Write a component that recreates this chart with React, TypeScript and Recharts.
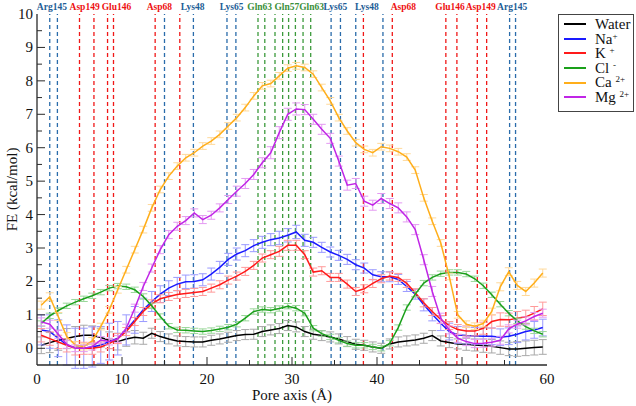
import React from 'react';
import { LineChart, Line, XAxis, YAxis, ErrorBar, ReferenceLine, Legend } from 'recharts';

const SERIF = "'Liberation Serif', 'Tinos', 'Times New Roman', 'DejaVu Serif', serif";

const poreX = [0.5,1.5,2.5,3.5,4.5,5.5,6.5,7.5,8.5,9.5,10.5,11.5,12.5,13.5,14.5,15.5,16.5,17.5,18.5,19.5,20.5,21.5,22.5,23.5,24.5,25.5,26.5,27.5,28.5,29.5,30.5,31.5,32.5,33.5,34.5,35.5,36.5,37.5,38.5,39.5,40.5,41.5,42.5,43.5,44.5,45.5,46.5,47.5,48.5,49.5,50.5,51.5,52.5,53.5,54.5,55.5,56.5,57.5,58.5,59.5];

const water = [0.09,0.17,0.24,0.29,0.35,0.39,0.39,0.32,0.24,0.2,0.28,0.33,0.3,0.45,0.35,0.28,0.22,0.2,0.19,0.19,0.24,0.28,0.33,0.38,0.41,0.42,0.5,0.55,0.59,0.68,0.64,0.5,0.42,0.38,0.34,0.28,0.2,0.12,0.09,0.04,0.0,0.13,0.19,0.22,0.25,0.3,0.38,0.22,0.17,0.13,0.12,0.1,0.08,0.06,0.02,-0.02,-0.02,0.0,0.02,0.04];
const waterErr = [0.25,0.3,0.3,0.3,0.3,0.3,0.28,0.28,0.25,0.25,0.22,0.2,0.18,0.15,0.15,0.15,0.15,0.15,0.15,0.15,0.15,0.15,0.15,0.15,0.15,0.15,0.15,0.15,0.15,0.15,0.15,0.15,0.15,0.15,0.15,0.15,0.15,0.15,0.15,0.15,0.15,0.15,0.15,0.15,0.15,0.15,0.15,0.15,0.15,0.15,0.18,0.18,0.2,0.2,0.2,0.2,0.22,0.22,0.22,0.22];

const sodium = [0.55,0.5,0.3,0.1,0.0,0.0,0.04,0.1,0.2,0.3,0.55,0.85,1.15,1.4,1.62,1.8,1.92,1.99,2.0,2.05,2.22,2.42,2.66,2.82,2.92,3.07,3.17,3.25,3.3,3.38,3.48,3.23,3.17,3.02,2.88,2.78,2.66,2.5,2.4,2.2,2.14,2.14,2.06,1.85,1.62,1.3,1.02,0.75,0.5,0.4,0.38,0.37,0.36,0.36,0.33,0.36,0.42,0.5,0.55,0.62];
const sodiumErr = [0.45,0.5,0.55,0.6,0.6,0.6,0.6,0.55,0.55,0.5,0.45,0.4,0.35,0.3,0.25,0.22,0.2,0.2,0.2,0.18,0.18,0.18,0.18,0.18,0.18,0.18,0.18,0.18,0.2,0.2,0.2,0.18,0.15,0.15,0.15,0.15,0.15,0.15,0.15,0.15,0.15,0.15,0.15,0.15,0.15,0.18,0.2,0.22,0.25,0.25,0.25,0.25,0.25,0.25,0.25,0.25,0.25,0.25,0.25,0.25];

const potassium = [0.39,0.29,0.19,0.09,0.0,0.0,0.0,0.04,0.14,0.29,0.5,0.8,1.1,1.33,1.48,1.55,1.61,1.64,1.67,1.7,1.8,1.9,2.04,2.16,2.3,2.48,2.7,2.8,2.9,3.08,3.08,2.8,2.28,2.32,2.12,2.12,1.92,1.7,1.78,1.94,2.08,2.16,2.12,1.94,1.66,1.36,1.1,0.86,0.68,0.56,0.52,0.52,0.6,0.8,0.86,0.85,0.9,0.94,1.05,1.18];
const potassiumErr = [0.2,0.2,0.2,0.2,0.2,0.18,0.18,0.15,0.15,0.15,0.12,0.12,0.12,0.12,0.12,0.12,0.12,0.12,0.12,0.12,0.12,0.12,0.12,0.12,0.12,0.12,0.12,0.12,0.15,0.15,0.15,0.12,0.12,0.12,0.12,0.12,0.12,0.12,0.12,0.12,0.12,0.12,0.12,0.12,0.12,0.12,0.12,0.12,0.12,0.15,0.15,0.15,0.18,0.2,0.2,0.2,0.2,0.2,0.2,0.2];

const chloride = [0.74,0.97,1.13,1.27,1.38,1.48,1.57,1.68,1.8,1.86,1.84,1.75,1.55,1.27,0.95,0.66,0.55,0.54,0.52,0.5,0.53,0.58,0.63,0.72,0.9,1.1,1.16,1.14,1.19,1.26,1.2,1.05,0.6,0.44,0.34,0.24,0.14,0.09,0.09,0.04,0.0,0.15,0.62,1.22,1.62,1.95,2.12,2.23,2.27,2.27,2.22,2.08,1.87,1.6,1.32,1.05,0.82,0.65,0.52,0.42];
const chlorideErr = [0.08,0.08,0.08,0.08,0.08,0.08,0.08,0.08,0.08,0.08,0.08,0.08,0.08,0.08,0.08,0.08,0.08,0.08,0.08,0.08,0.08,0.08,0.08,0.08,0.08,0.08,0.08,0.08,0.08,0.08,0.08,0.08,0.08,0.08,0.08,0.08,0.08,0.08,0.08,0.08,0.08,0.08,0.08,0.08,0.08,0.08,0.08,0.08,0.08,0.08,0.08,0.08,0.08,0.08,0.08,0.08,0.08,0.08,0.08,0.08];

const calcium = [1.29,1.54,0.95,0.35,0.1,0.05,0.22,0.65,1.15,1.75,2.35,2.95,3.55,4.2,4.75,5.15,5.45,5.7,5.85,6.05,6.2,6.4,6.65,6.9,7.2,7.55,7.85,7.92,8.15,8.38,8.45,8.4,8.2,7.8,7.4,6.9,6.5,6.15,5.95,5.85,6.03,5.98,5.88,5.72,5.33,4.5,3.8,3.15,2.15,1.0,0.72,0.66,0.74,1.1,1.84,2.29,1.88,1.7,1.95,2.25];
const calciumErr = [0.12,0.12,0.12,0.12,0.1,0.1,0.1,0.1,0.1,0.1,0.1,0.1,0.1,0.1,0.1,0.1,0.1,0.1,0.1,0.1,0.1,0.1,0.1,0.1,0.1,0.1,0.1,0.1,0.1,0.1,0.1,0.1,0.1,0.1,0.1,0.1,0.1,0.1,0.1,0.1,0.1,0.1,0.1,0.1,0.1,0.1,0.1,0.1,0.1,0.1,0.1,0.1,0.1,0.1,0.12,0.12,0.12,0.12,0.12,0.12];

const magnesium = [0.79,0.72,0.42,0.12,0.0,0.0,0.05,0.25,0.2,0.28,0.6,1.2,1.85,2.4,2.95,3.4,3.65,3.82,4.05,3.85,3.98,4.2,4.45,4.7,4.93,5.2,5.55,5.85,6.45,7.0,7.16,7.14,6.85,6.55,6.28,5.6,4.88,4.93,4.4,4.28,4.48,4.33,4.2,3.93,3.55,2.65,1.7,0.9,0.55,0.3,0.2,0.14,0.15,0.18,0.24,0.58,0.72,0.82,0.95,1.05];
const magnesiumErr = [0.12,0.12,0.12,0.12,0.1,0.1,0.1,0.1,0.1,0.1,0.12,0.12,0.12,0.12,0.12,0.12,0.12,0.12,0.12,0.12,0.12,0.12,0.12,0.15,0.15,0.15,0.15,0.18,0.18,0.18,0.18,0.15,0.15,0.15,0.15,0.15,0.15,0.15,0.15,0.15,0.15,0.15,0.15,0.15,0.15,0.15,0.15,0.15,0.12,0.12,0.12,0.12,0.12,0.12,0.12,0.12,0.12,0.12,0.12,0.12];

const blueLines = [1.5, 2.4, 15.0, 18.4, 22.35, 23.4, 34.6, 35.7, 37.5, 40.7, 55.6, 56.3];
const redLines = [5.0, 6.7, 8.3, 9.0, 13.9, 16.8, 38.4, 41.8, 48.1, 49.4, 51.8, 52.9];
const greenLines = [26.0, 26.8, 28.0, 28.9, 29.6, 30.4, 31.3, 32.2];

const residueNames = ['Arg145','Asp149','Glu146','Asp68','Lys48','Lys65','Gln63','Gln57','Gln63','Lys65','Lys48','Asp68','Glu146','Asp149','Arg145'];
const residueLabelX = [1.75, 5.6, 9.35, 14.4, 18.3, 22.9, 26.2, 29.4, 32.3, 35.1, 38.8, 43.1, 48.6, 52.2, 55.9];
const residueKinds = ['b','r','r','r','b','b','g','g','g','b','b','r','r','r','b'];

const xTicks = [0,5,10,15,20,25,30,35,40,45,50,55,60];
const yTicks = [-0.5,0,0.5,1,1.5,2,2.5,3,3.5,4,4.5,5,5.5,6,6.5,7,7.5,8,8.5,9,9.5,10];

const LINE_BLUE = '#2a6cab';
const LINE_RED = '#f01818';
const LINE_GREEN = '#3c9a3c';
const labelColor: Record<string, string> = { b: '#1d5d96', r: '#ee1111', g: '#3a8f3a' };

const series = [
  { key: 'water', err: 'waterErr', name: 'Water', sup: '', color: '#000000', errColor: '#a8a8a8' },
  { key: 'na', err: 'naErr', name: 'Na', sup: '+', color: '#1a1aff', errColor: '#9a9aff' },
  { key: 'k', err: 'kErr', name: 'K ', sup: '+', color: '#ff1a1a', errColor: '#ff9a9a' },
  { key: 'cl', err: 'clErr', name: 'Cl ', sup: '-', color: '#1aa01a', errColor: '#9ad79a' },
  { key: 'ca', err: 'caErr', name: 'Ca ', sup: '2+', color: '#ffae1a', errColor: '#ffd99a' },
  { key: 'mg', err: 'mgErr', name: 'Mg ', sup: '2+', color: '#c025e6', errColor: '#e49af2' },
];

const data = poreX.map((x, i) => ({
  x,
  water: water[i], waterErr: waterErr[i],
  na: sodium[i], naErr: sodiumErr[i],
  k: potassium[i], kErr: potassiumErr[i],
  cl: chloride[i], clErr: chlorideErr[i],
  ca: calcium[i], caErr: calciumErr[i],
  mg: magnesium[i], mgErr: magnesiumErr[i],
}));

const FRAME = '#2a2a2a';

const BottomTick = (props: any) => {
  const { x, y, payload } = props;
  const v = payload.value;
  const major = v % 10 === 0;
  return (
    <g>
      {v > 0 && v < 60 && <line x1={x} y1={y} x2={x} y2={y - (major ? 8 : 5)} stroke={FRAME} strokeWidth={1} />}
      {major && (
        <text x={x} y={y + 19} textAnchor="middle" fontSize={15} style={{ fontFamily: SERIF }} fill="#111">{v}</text>
      )}
    </g>
  );
};

const TopTick = (props: any) => {
  const { x, y, payload } = props;
  const v = payload.value;
  const major = v % 10 === 0;
  if (v <= 0 || v >= 60) return <g />;
  return <line x1={x} y1={y} x2={x} y2={y + (major ? 8 : 5)} stroke={FRAME} strokeWidth={1} />;
};

const LeftTick = (props: any) => {
  const { x, y, payload } = props;
  const v = payload.value;
  const major = Number.isInteger(v);
  return (
    <g>
      {v > -0.5 && v < 10 && <line x1={x} y1={y} x2={x + (major ? 8 : 5)} y2={y} stroke={FRAME} strokeWidth={1} />}
      {major && (
        <text x={x - 4} y={y + 5} textAnchor="end" fontSize={15} style={{ fontFamily: SERIF }} fill="#111">{v}</text>
      )}
    </g>
  );
};

const RightTick = (props: any) => {
  const { x, y, payload } = props;
  const v = payload.value;
  const major = Number.isInteger(v);
  if (v <= -0.5 || v >= 10) return <g />;
  return <line x1={x} y1={y} x2={x - (major ? 8 : 5)} y2={y} stroke={FRAME} strokeWidth={1} />;
};

const LegendBox = () => (
  <div
    style={{
      width: 74,
      height: 94,
      border: '1px solid #444',
      background: '#fff',
      fontFamily: SERIF,
      fontSize: 15,
      color: '#111',
      boxSizing: 'content-box',
      paddingTop: 2,
    }}
  >
    {series.map((s) => (
      <div key={s.key} style={{ display: 'flex', alignItems: 'center', height: 14.6, lineHeight: '14.6px' }}>
        <div style={{ width: 22, height: 0, borderTop: `2px solid ${s.color}`, marginLeft: 5, marginRight: 9 }} />
        <span style={{ whiteSpace: 'nowrap' }}>
          {s.name}
          {s.sup && <sup style={{ fontSize: 9, verticalAlign: 'top', position: 'relative', top: -3 }}>{s.sup}</sup>}
        </span>
      </div>
    ))}
  </div>
);

const YLabel = (p: any) => {
  const vb = p.viewBox || { x: 0, y: 14, width: 37, height: 351 };
  const cy = vb.y + vb.height / 2;
  return (
    <text x={12} y={cy} transform={`rotate(-90 12 ${cy})`} textAnchor="middle" dominantBaseline="central" fontSize={15} style={{ fontFamily: SERIF }} fill="#111">
      FE (kcal/mol)
    </text>
  );
};

const XLabel = (p: any) => {
  const vb = p.viewBox || { x: 37, y: 365, width: 510, height: 41 };
  return (
    <text x={vb.x + vb.width / 2} y={400} textAnchor="middle" fontSize={15} style={{ fontFamily: SERIF }} fill="#111">
      Pore axis (Å)
    </text>
  );
};

export default function App() {
  return (
    <div style={{ position: 'absolute', left: 0, top: 0, width: 636, height: 406, background: '#fff', fontFamily: SERIF }}>
      <LineChart width={636} height={406} data={data} margin={{ top: 14, right: 89, bottom: 0, left: 0 }} style={{ fontFamily: SERIF }}>
        {blueLines.map((v, i) => (
          <ReferenceLine key={'b' + i} x={v} stroke={LINE_BLUE} strokeDasharray="4 3" strokeWidth={1.3} />
        ))}
        {redLines.map((v, i) => (
          <ReferenceLine key={'r' + i} x={v} stroke={LINE_RED} strokeDasharray="4 3" strokeWidth={1.3} />
        ))}
        {greenLines.map((v, i) => (
          <ReferenceLine key={'g' + i} x={v} stroke={LINE_GREEN} strokeDasharray="4 3" strokeWidth={1.3} />
        ))}
        {residueNames.map((n, i) => (
          <ReferenceLine
            key={'lab' + i}
            x={residueLabelX[i]}
            stroke="none"
            label={{
              value: n,
              position: 'top',
              offset: 4,
              fill: labelColor[residueKinds[i]],
              fontSize: 9.5,
              fontWeight: 700,
              style: { fontFamily: SERIF },
            }}
          />
        ))}
        <XAxis
          dataKey="x"
          type="number"
          domain={[0, 60]}
          ticks={xTicks}
          interval={0}
          allowDataOverflow
          height={41}
          tickSize={0}
          tickMargin={0}
          tick={<BottomTick />}
          axisLine={{ stroke: FRAME, strokeWidth: 1.3 }}
          label={{ content: XLabel }}
        />
        <XAxis
          xAxisId="top"
          orientation="top"
          type="number"
          domain={[0, 60]}
          ticks={xTicks}
          interval={0}
          allowDataOverflow
          height={0}
          tickSize={0}
          tickMargin={0}
          tick={<TopTick />}
          axisLine={{ stroke: FRAME, strokeWidth: 1.3 }}
        />
        <YAxis
          type="number"
          domain={[-0.5, 10]}
          ticks={yTicks}
          interval={0}
          allowDataOverflow
          width={37}
          tickSize={0}
          tickMargin={0}
          tick={<LeftTick />}
          axisLine={{ stroke: FRAME, strokeWidth: 1.3 }}
          label={{ content: YLabel }}
        />
        <YAxis
          yAxisId="right"
          orientation="right"
          type="number"
          domain={[-0.5, 10]}
          ticks={yTicks}
          interval={0}
          allowDataOverflow
          width={0}
          tickSize={0}
          tickMargin={0}
          tick={<RightTick />}
          axisLine={{ stroke: FRAME, strokeWidth: 1.3 }}
        />
        {series.map((s) => (
          <Line
            key={s.key}
            dataKey={s.key}
            type="linear"
            stroke={s.color}
            strokeWidth={1.5}
            dot={false}
            activeDot={false}
            isAnimationActive={false}
          >
            <ErrorBar dataKey={s.err} direction="y" width={4} stroke={s.errColor} strokeWidth={1} isAnimationActive={false} />
          </Line>
        ))}
        <Legend
          layout="vertical"
          align="center"
          verticalAlign="middle"
          content={() => <LegendBox />}
          wrapperStyle={{ position: 'absolute', left: 558, top: 14, width: 76, height: 98 }}
        />
      </LineChart>
    </div>
  );
}
